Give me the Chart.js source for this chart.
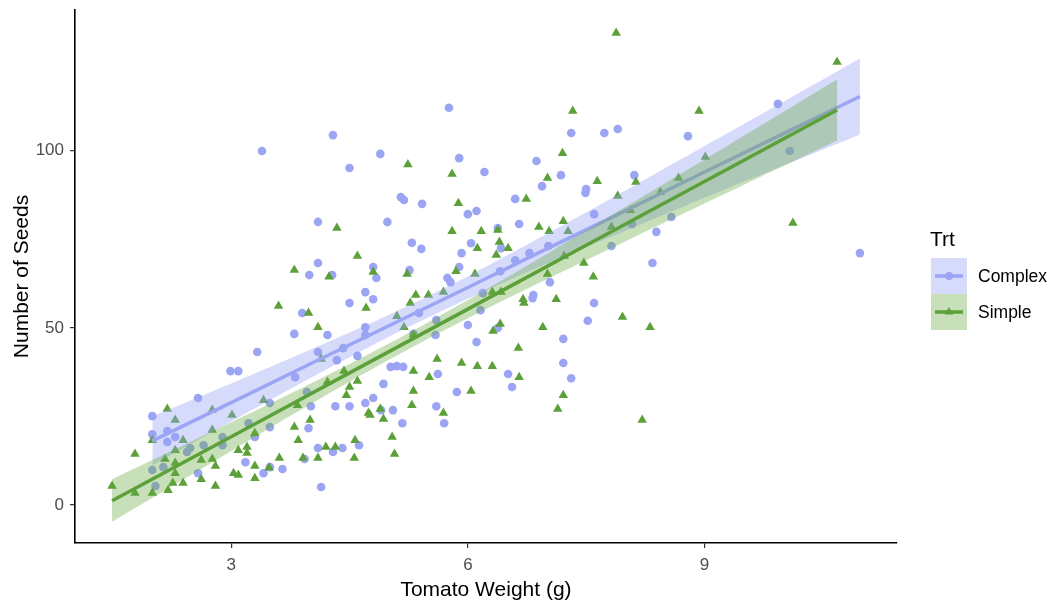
<!DOCTYPE html>
<html>
<head>
<meta charset="utf-8">
<script src="https://cdn.jsdelivr.net/npm/chart.js@4/dist/chart.umd.min.js"></script>
<style>
  html, body { margin: 0; padding: 0; background: #fff; }
  #wrap { width: 1059px; height: 603px; }
</style>
</head>
<body>
<div id="wrap"><canvas id="seedChart" width="1059" height="603"></canvas></div>
<script>
// tick labels
const xTicks = [3, 6, 9];
const yTicks = [0, 50, 100];
const groups = ['Complex', 'Simple'];

// Complex treatment (circles)
const complexX = [2.99, 3.09, 2.58, 2.00, 2.00, 2.19, 2.19, 2.29, 3.22, 2.89, 2.89, 2.48, 2.44, 2.65, 2.00, 2.14, 2.58, 2.04, 3.18, 3.30,
  3.41, 3.49, 3.49, 3.65, 4.14, 3.49, 3.81, 3.96, 4.01, 3.98, 4.32, 4.50, 4.70, 4.80, 4.93, 5.05, 5.17, 4.90, 4.10, 4.29,
  4.41, 4.62, 3.93, 5.02, 5.10, 5.18, 5.62, 5.86, 5.60, 5.70,
  4.10, 4.98, 5.15, 5.19, 5.42, 4.10, 3.99, 4.28, 4.80, 4.84, 5.29, 5.41, 5.26, 4.70, 4.80, 4.50, 3.90, 4.70, 4.70, 3.80,
  4.22, 4.10, 4.42, 4.60, 4.34, 5.38, 5.60, 5.59, 5.31, 3.33, 4.29, 3.39, 4.89, 4.50,
  5.74, 5.78, 5.89, 6.41, 6.60, 7.04, 6.83, 6.82, 6.19, 6.16, 6.00, 6.11, 6.38, 7.60, 7.52, 7.21, 7.21, 7.31, 6.51, 6.56,
  5.76, 7.31, 7.73, 7.90, 5.89, 6.21, 6.87, 7.18, 6.94, 7.50, 7.49, 6.60, 6.11, 6.00, 7.60, 6.65, 6.38, 6.04, 5.92, 6.42,
  6.78, 7.02, 7.82, 9.93, 8.79, 8.11, 10.08, 8.58, 8.39, 8.08, 8.34, 10.97];
const complexY = [37.8, 37.8, 30.2, 25.1, 20.0, 20.9, 17.8, 19.2, 23.1, 19.2, 16.9, 16.1, 15.0, 16.9, 9.9, 10.7, 9.0, 5.4, 12.1, 19.2,
  9.0, 28.8, 10.7, 10.2, 5.1, 22.0, 36.1, 31.9, 27.9, 21.7, 27.9, 27.9, 28.8, 30.2, 34.2, 26.8, 23.1, 26.8, 16.1, 15.0,
  16.1, 16.9, 13.0, 39.0, 39.2, 39.0, 37.0, 31.9, 27.9, 23.1,
  79.9, 79.9, 86.9, 86.1, 85.0, 68.3, 64.9, 64.9, 67.2, 64.1, 74.0, 72.3, 66.3, 60.1, 58.1, 57.0, 54.2, 50.2, 48.0, 48.3,
  48.0, 43.2, 44.3, 42.1, 40.9, 54.2, 52.2, 48.0, 48.3, 43.2, 104.4, 99.9, 99.1, 95.1,
  64.1, 62.9, 67.2, 66.0, 69.1, 62.9, 59.3, 58.4, 59.8, 55.0, 50.8, 46.0, 50.0, 57.0, 52.0, 46.9, 40.1, 35.8, 37.0, 33.3,
  112.1, 105.0, 105.0, 106.1, 97.9, 94.0, 97.1, 93.1, 90.0, 89.2, 88.1, 86.4, 83.0, 82.1, 82.1, 79.3, 78.2, 73.9, 71.1, 72.5,
  71.1, 73.1, 73.1, 113.2, 104.1, 93.1, 99.9, 81.3, 77.1, 79.3, 68.3, 71.1];

// Simple treatment (triangles)
const simpleX = [2.19, 2.76, 2.29, 3.01, 2.00, 1.78, 2.39, 2.76, 3.30, 2.29, 2.16, 2.29, 2.29, 2.62, 2.76, 2.80, 3.09, 3.20, 3.20, 3.30,
  3.03, 3.09, 3.30, 1.49, 1.78, 2.00, 2.20, 2.39, 2.26, 2.62, 2.80,
  3.41, 3.84, 4.00, 3.80, 3.85, 3.61, 3.48, 3.91, 4.10, 4.20, 4.32, 4.57, 4.56, 4.22, 4.43, 4.60, 4.46, 4.50, 4.74, 4.89,
  4.76, 4.93, 5.04, 5.07, 5.31, 5.31, 5.29, 5.51, 5.69,
  4.34, 4.60, 3.80, 4.24, 4.80, 5.23, 3.60, 3.98, 4.71, 4.10, 5.34, 5.50, 5.27, 5.10, 5.19, 5.31, 5.61, 4.14, 5.24,
  5.69, 5.85, 6.09, 6.31, 6.42, 6.70, 6.71, 7.01, 7.12, 7.47, 7.59, 6.41, 6.32, 6.95, 6.64, 5.92, 6.12, 6.31, 6.65, 6.04,
  7.21, 7.14,
  7.33, 7.20, 5.80, 7.01, 7.64, 5.88, 6.74, 5.80, 6.17, 6.38, 6.90, 7.03, 7.21, 7.27, 6.40, 6.12, 6.51, 6.36, 7.90, 7.82,
  7.22, 10.68, 8.93, 9.01, 8.67, 8.44, 8.13, 10.12, 8.06, 7.88, 7.96, 8.31, 8.21];
const simpleY = [27.1, 26.8, 24.0, 25.4, 18.3, 14.4, 18.3, 21.2, 20.3, 15.5, 13.0, 11.9, 9.0, 12.7, 13.0, 11.0, 15.5, 16.4, 14.7, 11.0,
  9.0, 8.5, 7.6, 5.4, 3.4, 3.4, 4.2, 6.2, 6.2, 7.3, 5.4,
  29.6, 28.2, 24.0, 22.0, 18.3, 13.3, 10.5, 13.3, 13.3, 16.4, 16.4, 18.3, 13.3, 34.7, 37.8, 35.0, 31.0, 33.3, 26.0, 27.1,
  25.4, 24.3, 19.2, 14.4, 37.8, 32.2, 28.2, 36.1, 26.0,
  78.2, 70.3, 66.3, 64.4, 65.8, 65.2, 56.2, 54.2, 55.6, 50.2, 59.3, 59.3, 57.0, 53.3, 50.2, 48.0, 41.2, 41.2, 96.1,
  60.1, 66.0, 65.2, 60.1, 60.1, 58.1, 57.0, 65.2, 58.1, 68.3, 64.4, 51.1, 49.1, 50.2, 44.3, 40.1, 39.2, 39.2, 36.1, 32.2,
  31.0, 27.1,
  111.2, 99.3, 93.4, 92.3, 91.4, 85.2, 86.4, 77.3, 77.3, 77.6, 78.5, 77.3, 80.1, 77.3, 74.2, 72.5, 72.5, 70.6, 87.2, 78.5,
  70.3, 125.0, 111.2, 98.2, 92.3, 88.3, 91.2, 79.6, 83.2, 133.2, 53.1, 50.2, 24.0];

// lm fits and 95% bands
const complexFitX = [2, 3, 4, 5, 6, 7, 8, 9, 10, 10.97];
const complexFitY = [18.1, 28.9, 39.8, 50.6, 61.4, 72.3, 83.1, 94.0, 104.8, 115.3];
const complexLower = [11.2, 23.6, 35.8, 47.5, 58.2, 68.1, 77.4, 86.7, 95.8, 104.6];
const complexUpper = [25.0, 34.3, 43.8, 53.7, 64.6, 76.5, 88.8, 101.3, 113.8, 126.0];

const simpleFitX = [1.49, 2.5, 3.5, 4.5, 5.5, 6.5, 7.5, 8.5, 9.5, 10.68];
const simpleFitY = [1.2, 13.3, 25.3, 37.3, 49.3, 61.3, 73.3, 85.3, 97.3, 111.5];
const simpleLower = [-4.7, 8.6, 21.9, 34.8, 47.0, 58.3, 69.1, 79.8, 90.4, 102.9];
const simpleUpper = [7.3, 18.0, 28.7, 39.8, 51.6, 64.3, 77.5, 90.8, 104.2, 120.1];

const blue = '#9ba5f4';
const green = '#5ca03a';
const blueBand = 'rgba(153, 163, 245, 0.4)';
const greenBand = 'rgba(100, 170, 60, 0.36)';

function pts(xs, ys) {
    return xs.map((x, i) => ({ x: x, y: ys[i] }));
}

function bandSet(xs, ys, fill, color) {
    return {
        type: 'line',
        data: pts(xs, ys),
        borderWidth: 0,
        pointRadius: 0,
        tension: 0.3,
        fill: fill,
        backgroundColor: color
    };
}

const legendPlugin = {
    id: 'trtLegend',
    afterDraw(chart) {
        const ctx = chart.ctx;
        ctx.save();
        ctx.fillStyle = '#000';
        ctx.font = '21px "Liberation Sans", Arial, sans-serif';
        ctx.textBaseline = 'middle';
        ctx.fillText('Trt', 930, 240);
        const keys = [
            { label: groups[0], band: blueBand, color: blue, style: 'circle', y: 258 },
            { label: groups[1], band: greenBand, color: green, style: 'triangle', y: 294 }
        ];
        keys.forEach(k => {
            ctx.fillStyle = k.band;
            ctx.fillRect(931, k.y, 36, 36);
            ctx.strokeStyle = k.color;
            ctx.lineWidth = 3.5;
            ctx.beginPath();
            ctx.moveTo(935, k.y + 18);
            ctx.lineTo(963, k.y + 18);
            ctx.stroke();
            ctx.fillStyle = k.color;
            Chart.helpers.drawPoint(ctx, { pointStyle: k.style, radius: k.style === 'circle' ? 4 : 5, borderWidth: 0 }, 949, k.y + 18);
            ctx.fillStyle = '#000';
            ctx.font = '17.5px "Liberation Sans", Arial, sans-serif';
            ctx.fillText(k.label, 978, k.y + 19);
        });
        ctx.restore();
    }
};

new Chart(document.getElementById('seedChart').getContext('2d'), {
    type: 'scatter',
    data: {
        datasets: [
            {
                type: 'line',
                label: 'Simple fit',
                data: pts(simpleFitX, simpleFitY),
                borderColor: green,
                borderWidth: 3.5,
                pointRadius: 0,
                fill: false
            },
            bandSet(simpleFitX, simpleUpper, '+1', greenBand),
            bandSet(simpleFitX, simpleLower, false, greenBand),
            {
                type: 'line',
                label: 'Complex fit',
                data: pts(complexFitX, complexFitY),
                borderColor: blue,
                borderWidth: 3.5,
                pointRadius: 0,
                fill: false
            },
            bandSet(complexFitX, complexUpper, '+1', blueBand),
            bandSet(complexFitX, complexLower, false, blueBand),
            {
                label: 'Simple',
                data: pts(simpleX, simpleY),
                pointStyle: 'triangle',
                pointRadius: 5.5,
                borderWidth: 0,
                backgroundColor: green
            },
            {
                label: 'Complex',
                data: pts(complexX, complexY),
                pointStyle: 'circle',
                pointRadius: 4.3,
                borderWidth: 0,
                backgroundColor: blue
            }
        ]
    },
    options: {
        responsive: false,
        animation: false,
        devicePixelRatio: 1,
        layout: { padding: { top: 10, right: 162, left: 0, bottom: 0 } },
        plugins: {
            legend: { display: false },
            tooltip: { enabled: false }
        },
        scales: {
            x: {
                type: 'linear',
                min: 1.02,
                max: 11.44,
                afterBuildTicks: (s) => { s.ticks = xTicks.map(v => ({ value: v })); },
                afterFit: (s) => { s.height = 60; s.paddingLeft = 0; s.paddingRight = 0; },
                grid: { display: true, drawOnChartArea: false, drawTicks: true, tickLength: 5, color: '#333', lineWidth: 1.2 },
                border: { display: true, color: '#000', width: 1.6 },
                ticks: {
                    color: '#4d4d4d',
                    padding: 7,
                    maxRotation: 0,
                    font: { family: '"Liberation Sans", Arial, sans-serif', size: 17 }
                },
                title: {
                    display: true,
                    text: 'Tomato Weight (g)',
                    color: '#000',
                    padding: { top: 2, bottom: 0 },
                    font: { family: '"Liberation Sans", Arial, sans-serif', size: 21 }
                }
            },
            y: {
                type: 'linear',
                min: -10.7,
                max: 139.7,
                afterBuildTicks: (s) => { s.ticks = yTicks.map(v => ({ value: v })); },
                afterFit: (s) => { s.width = 75; s.paddingTop = 0; s.paddingBottom = 0; },
                grid: { display: true, drawOnChartArea: false, drawTicks: true, tickLength: 5, color: '#333', lineWidth: 1.2 },
                border: { display: true, color: '#000', width: 1.6 },
                ticks: {
                    color: '#4d4d4d',
                    padding: 6,
                    font: { family: '"Liberation Sans", Arial, sans-serif', size: 17 }
                },
                title: {
                    display: true,
                    text: 'Number of Seeds',
                    color: '#000',
                    padding: { top: 10, bottom: 0 },
                    font: { family: '"Liberation Sans", Arial, sans-serif', size: 21 }
                }
            }
        }
    },
    plugins: [legendPlugin]
});
</script>
</body>
</html>
